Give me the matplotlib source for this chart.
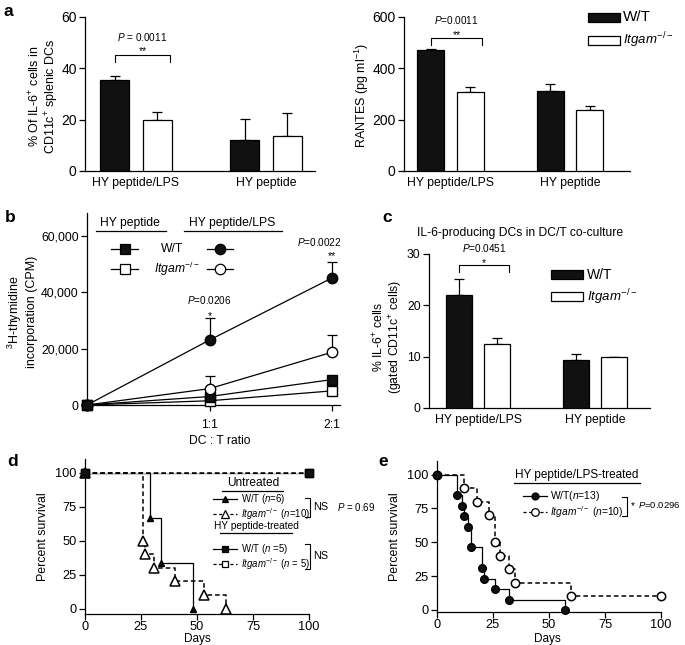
import matplotlib
matplotlib.use('Agg')
import matplotlib.pyplot as plt
import numpy as np
from matplotlib.lines import Line2D

plt.rcParams['font.family'] = ['Liberation Sans', 'DejaVu Sans']
plt.rcParams['mathtext.fontset'] = 'custom'
plt.rcParams['mathtext.rm'] = 'Liberation Sans'
plt.rcParams['mathtext.it'] = 'Liberation Sans:italic'
plt.rcParams['mathtext.bf'] = 'Liberation Sans:bold'
plt.rcParams['axes.linewidth'] = 0.9
plt.rcParams['xtick.major.width'] = 0.9
plt.rcParams['ytick.major.width'] = 0.9

# ---------------- data ----------------
groups = ['HY peptide/LPS', 'HY peptide']
il6_wt = [35.3, 12.2]
il6_wt_err = [1.7, 8.1]
il6_ko = [20.0, 13.8]
il6_ko_err = [2.9, 8.7]

rantes_wt = [470, 312]
rantes_wt_err = [4, 26]
rantes_ko = [308, 237]
rantes_ko_err = [18, 18]

cc_wt = [22.0, 9.4]
cc_wt_err = [3.1, 1.1]
cc_ko = [12.4, 9.9]
cc_ko_err = [1.3, 0.0]

ratio_x = [0, 1, 2]
ratio_ticks = [1, 2]
ratio_labels = ['1:1', '2:1']
wt_lps = [0, 23000, 45000]
wt_lps_err = [0, 7900, 5700]
ko_lps = [0, 5800, 18700]
ko_lps_err = [0, 4400, 6100]
wt_pep = [0, 3000, 9000]
ko_pep = [0, 1500, 5000]
b_yticks = [0, 20000, 40000, 60000]
b_yticklabels = ['0', '20,000', '40,000', '60,000']

unt_wt_days = [0, 29, 34, 48]
unt_wt_surv = [100, 66.7, 33.3, 0]
unt_ko_days = [0, 26, 27, 31, 40, 53, 63]
unt_ko_surv = [100, 50, 40, 30, 20, 10, 0]
hy_wt_days = [0, 100]
hy_wt_surv = [100, 100]
hy_ko_days = [0, 100]
hy_ko_surv = [100, 100]

lps_wt_days = [0, 9, 11, 12, 14, 15, 20, 21, 26, 32, 57]
lps_wt_surv = [100, 84.6, 76.9, 69.2, 61.5, 46.2, 30.8, 23.1, 15.4, 7.7, 0]
lps_ko_days = [0, 12, 18, 23, 26, 28, 32, 35, 60, 100]
lps_ko_surv = [100, 90, 80, 70, 50, 40, 30, 20, 10, 10]
surv_ticks = [0, 25, 50, 75, 100]

# ---------------- figure helpers ----------------
W, H = 685, 645
fig = plt.figure(figsize=(6.85, 6.45), dpi=100)
BLACK = '#111111'
FS = 8.7


def fx(x):
    return x / W


def fy(y):
    return 1 - y / H


def ax_px(l, r, t, b):
    return fig.add_axes([l / W, 1 - b / H, (r - l) / W, (b - t) / H])


def ftext(x, y, s, **kw):
    kw.setdefault('fontsize', FS)
    kw.setdefault('ha', 'center')
    kw.setdefault('va', 'center')
    fig.text(fx(x), fy(y), s, **kw)


def fline(xs, ys, **kw):
    kw.setdefault('color', 'black')
    kw.setdefault('lw', 0.9)
    fig.add_artist(Line2D([fx(v) for v in xs], [fy(v) for v in ys],
                          transform=fig.transFigure, **kw))


def fglyph(x1, x2, y, marker, mfc, ms, ls='-', lw=0.9):
    fline([x1, x2], [y, y], ls=ls, lw=lw)
    fline([(x1 + x2) / 2], [y], marker=marker, mfc=mfc, mec='black', ms=ms, ls='none', mew=0.9)


def style(ax):
    for s in ['top', 'right']:
        ax.spines[s].set_visible(False)
    ax.tick_params(direction='out', length=4, labelsize=FS, pad=2)


def bar_panel(ax, wt, wt_err, ko, ko_err, off, width, xlim, ylim, yticks, ytfs):
    x = np.arange(len(groups))
    ax.errorbar(x - off, wt, yerr=[np.zeros(len(wt)), wt_err], fmt='none', ecolor='black',
                elinewidth=0.9, capsize=3.6, capthick=0.9, zorder=2)
    ax.errorbar(x + off, ko, yerr=[np.zeros(len(ko)), ko_err], fmt='none', ecolor='black',
                elinewidth=0.9, capsize=3.6, capthick=0.9, zorder=2)
    ax.bar(x - off, wt, width, color=BLACK, edgecolor='black', lw=0.9, zorder=3)
    ax.bar(x + off, ko, width, color='white', edgecolor='black', lw=0.9, zorder=3)
    style(ax)
    ax.set_xlim(*xlim)
    ax.set_ylim(*ylim)
    ax.set_yticks(yticks)
    ax.set_xticks(x)
    ax.set_xticklabels(groups, fontsize=8.8)
    ax.tick_params(axis='x', length=0, pad=4)
    ax.tick_params(axis='y', labelsize=ytfs)


def bracket(ax, x1, x2, y, ydrop, ptxt, ptxt_y, star, star_y):
    ax.plot([x1, x1, x2, x2], [ydrop, y, y, ydrop], color='black', lw=0.8, clip_on=False)
    ax.text((x1 + x2) / 2, ptxt_y, ptxt, ha='center', va='center', fontsize=7.2)
    ax.text((x1 + x2) / 2, star_y, star, ha='center', va='center', fontsize=7.5)


KO = r'$Itgam^{-/-}$'

# ---------------- panel a (left) ----------------
axa1 = ax_px(85, 315, 17, 171)
bar_panel(axa1, il6_wt, il6_wt_err, il6_ko, il6_ko_err, 0.165, 0.223,
          (-0.392, 1.377), (0, 60), [0, 20, 40, 60], 10)
bracket(axa1, -0.165, 0.165 + 0.1, 45.2, 42.5, r'$P$ = 0.0011', 52.3, '**', 46.6)
ftext(44, 96, '% Of IL-6$^{+}$ cells in\nCD11c$^{+}$ splenic DCs', rotation=90,
      fontsize=9, linespacing=1.05)

# ---------------- panel a (right) ----------------
axa2 = ax_px(404, 630, 17, 171)
bar_panel(axa2, rantes_wt, rantes_wt_err, rantes_ko, rantes_ko_err, 0.167, 0.226,
          (-0.389, 1.502), (0, 600), [0, 200, 400, 600], 10)
bracket(axa2, -0.167, 0.167 + 0.1, 518, 491, r'$P$=0.0011', 588, '**', 530)
ftext(362, 96, 'RANTES (pg ml$^{-1}$)', rotation=90, fontsize=9)
# legend
fig.add_artist(plt.Rectangle((fx(588), fy(22)), fx(32), 9 / H, transform=fig.transFigure,
                             facecolor=BLACK, edgecolor='black', lw=0.9))
fig.add_artist(plt.Rectangle((fx(588), fy(45)), fx(32), 9 / H, transform=fig.transFigure,
                             facecolor='white', edgecolor='black', lw=0.9))
ftext(623, 17, 'W/T', ha='left', fontsize=11)
ftext(623, 40, KO, ha='left', fontsize=9.5)

# ---------------- panel b ----------------
axb = ax_px(87, 340, 213, 405)
style(axb)
axb.errorbar(ratio_x, wt_lps, yerr=[np.zeros(3), wt_lps_err], fmt='none', ecolor='black',
             elinewidth=0.9, capsize=3.6, capthick=0.9, zorder=2)
axb.errorbar(ratio_x, ko_lps, yerr=[np.zeros(3), ko_lps_err], fmt='none', ecolor='black',
             elinewidth=0.9, capsize=3.6, capthick=0.9, zorder=2)
axb.plot(ratio_x, ko_pep, '-s', color='black', mfc='white', ms=7, lw=0.9, clip_on=False, zorder=3)
axb.plot(ratio_x, wt_pep, '-s', color='black', mfc=BLACK, ms=7, lw=0.9, clip_on=False, zorder=4)
axb.plot(ratio_x, ko_lps, '-o', color='black', mfc='white', ms=7.5, lw=0.9, clip_on=False, zorder=5)
axb.plot(ratio_x, wt_lps, '-o', color='black', mfc=BLACK, ms=7.5, lw=0.9, clip_on=False, zorder=6)
axb.set_xlim(0, 2.065)
axb.set_ylim(0, 68000)
axb.set_yticks(b_yticks)
axb.set_yticklabels(b_yticklabels)
axb.set_xticks(ratio_ticks)
axb.set_xticklabels(ratio_labels)
axb.tick_params(axis='x', pad=6)
axb.text(1, 37300, r'$P$=0.0206', ha='center', va='center', fontsize=7.2)
axb.text(1, 31600, '*', ha='center', va='center', fontsize=7.5)
axb.text(1.9, 57700, r'$P$=0.0022', ha='center', va='center', fontsize=7.2)
axb.text(2, 52600, '**', ha='center', va='center', fontsize=7.5)
ftext(22, 312, '$^{3}$H-thymidine\nincorporation (CPM)', rotation=90, fontsize=9,
      linespacing=1.2)
ftext(220, 441, 'DC : T ratio', fontsize=8.7)
# legend
ftext(130, 223, 'HY peptide')
fline([96, 166], [231, 231])
ftext(232, 223, 'HY peptide/LPS')
fline([184, 282], [231, 231])
fglyph(111, 138, 249, 's', BLACK, 7)
fglyph(111, 138, 269, 's', 'white', 7)
fglyph(207, 233, 249, 'o', BLACK, 7.5)
fglyph(207, 233, 269, 'o', 'white', 7.5)
ftext(172, 249, 'W/T')
ftext(154, 269, KO, ha='left')

# ---------------- panel c ----------------
axc = ax_px(429, 650, 254, 408)
bar_panel(axc, cc_wt, cc_wt_err, cc_ko, cc_ko_err, 0.163, 0.222,
          (-0.419, 1.47), (0, 30), [0, 10, 20, 30], FS)
bracket(axc, -0.163, 0.163 + 0.1, 27.9, 26.5, r'$P$=0.0451', 31.1, '*', 28.2)
ftext(520, 233, 'IL-6-producing DCs in DC/T co-culture', fontsize=8.7)
ftext(388, 337, '% IL-6$^{+}$ cells\n(gated CD11c$^{+}$ cells)', rotation=90, fontsize=8.8,
      linespacing=1.05)
fig.add_artist(plt.Rectangle((fx(551), fy(279)), fx(32), 9 / H, transform=fig.transFigure,
                             facecolor=BLACK, edgecolor='black', lw=0.9))
fig.add_artist(plt.Rectangle((fx(551), fy(301)), fx(32), 9 / H, transform=fig.transFigure,
                             facecolor='white', edgecolor='black', lw=0.9))
ftext(587, 275, 'W/T', ha='left', fontsize=10)
ftext(587, 297, KO, ha='left', fontsize=9.5)


# ---------------- survival helpers ----------------
def surv_axes(ax, ylim):
    style(ax)
    ax.set_xlim(0, 100)
    ax.set_ylim(*ylim)
    ax.set_xticks(surv_ticks)
    ax.set_yticks(surv_ticks)
    ax.tick_params(labelsize=9.2)
    ax.tick_params(axis='x', pad=1)
    ax.set_ylabel('Percent survival', fontsize=8.9, labelpad=3)


# ---------------- panel d ----------------
axd = ax_px(85, 309, 459, 614)
surv_axes(axd, (-4, 110))
axd.step(unt_wt_days, unt_wt_surv, where='post', color='black', lw=0.9, zorder=2)
axd.step(unt_ko_days, unt_ko_surv, where='post', color='black', lw=1.1, ls=(0, (3, 2)), zorder=3)
axd.step(hy_wt_days, hy_wt_surv, where='post', color='black', lw=0.9, zorder=4)
axd.step(hy_ko_days, hy_ko_surv, where='post', color='black', lw=1.1, ls=(0, (3, 2)),
         gapcolor='white', zorder=5)
axd.plot(unt_wt_days, unt_wt_surv, '^', color='black', mfc=BLACK, ms=4.5, ls='none',
         clip_on=False, zorder=6)
axd.plot(unt_ko_days, unt_ko_surv, '^', color='black', mfc='white', ms=6.5, mew=1.1, ls='none',
         clip_on=False, zorder=7)
axd.plot(hy_ko_days, hy_ko_surv, 's', color='black', mfc='white', ms=6, ls='none',
         clip_on=False, zorder=8)
axd.plot(hy_wt_days, hy_wt_surv, 's', color='black', mfc=BLACK, ms=6, ls='none',
         clip_on=False, zorder=9)
axd.yaxis.set_label_coords(-0.16, 0.5)
ftext(197, 639, 'Days', fontsize=8.5)
# legend d
ftext(253, 483, 'Untreated', fontsize=8.6)
fline([222, 283], [491, 491])
fglyph(213, 237, 499, '^', BLACK, 4.5)
ftext(241, 499, r'W/T ($n$=6)', ha='left', fontsize=6.9)
fglyph(213, 237, 514, '^', 'white', 5.5, ls=(0, (2.5, 2)))
ftext(241, 514, KO + r' ($n$=10)', ha='left', fontsize=6.9)
fline([305, 310, 310, 305], [498, 498, 517, 517], lw=0.8)
ftext(313, 507, 'NS', ha='left', fontsize=7.8)
ftext(337, 507, r'$P$ = 0.69', ha='left', fontsize=7)
ftext(256, 526, 'HY peptide-treated', fontsize=7.3)
fline([220, 292], [533, 533])
fglyph(213, 237, 549, 's', BLACK, 5)
ftext(241, 549, r'W/T ($n$ =5)', ha='left', fontsize=6.9)
fglyph(213, 237, 564, 's', 'white', 5, ls=(0, (2.5, 2)))
ftext(241, 564, KO + r' ($n$ = 5)', ha='left', fontsize=6.9)
fline([305, 310, 310, 305], [544, 544, 569, 569], lw=0.8)
ftext(313, 556, 'NS', ha='left', fontsize=7.8)

# ---------------- panel e ----------------
axe = ax_px(437, 661, 461, 612)
surv_axes(axe, (-1.5, 110))
axe.step(lps_wt_days, lps_wt_surv, where='post', color='black', lw=0.9, zorder=2)
axe.step(lps_ko_days, lps_ko_surv, where='post', color='black', lw=1.1, ls=(0, (3, 2)), zorder=3)
axe.plot(lps_ko_days, lps_ko_surv, 'o', color='black', mfc='white', ms=6, mew=1.1, ls='none',
         clip_on=False, zorder=4)
axe.plot(lps_wt_days, lps_wt_surv, 'o', color='black', mfc=BLACK, ms=5.5, ls='none',
         clip_on=False, zorder=5)
axe.yaxis.set_label_coords(-0.16, 0.5)
ftext(547, 639, 'Days', fontsize=8.5)
# legend e
ftext(577, 475, 'HY peptide/LPS-treated', fontsize=8.5)
fline([514, 640], [483, 483])
fglyph(523, 547, 496, 'o', BLACK, 5)
ftext(550, 496, r'W/T($n$=13)', ha='left', fontsize=7.4)
fglyph(523, 547, 512, 'o', 'white', 5.5, ls=(0, (2.5, 2)))
ftext(550, 512, KO + r' ($n$=10)', ha='left', fontsize=7.4)
fline([622, 627, 627, 622], [497, 497, 516, 516], lw=0.8)
ftext(631, 506, '*', ha='left', fontsize=7)
ftext(638, 505, r'$P$=0.0296', ha='left', fontsize=6.8)

# ---------------- panel letters ----------------
for (x, y, s) in [(8, 11, 'a'), (10, 218, 'b'), (387, 217, 'c'), (13, 462, 'd'), (383, 462, 'e')]:
    ftext(x, y, s, fontsize=12.5, fontweight='bold', ha='center')

fig.savefig('out.png', dpi=100)
